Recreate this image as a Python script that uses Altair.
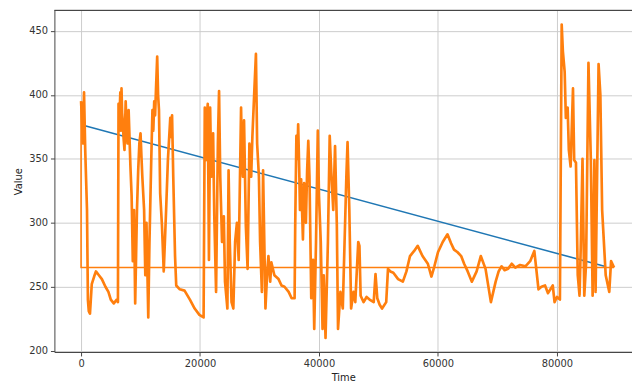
import altair as alt
import pandas as pd

# Orange series (drawing order preserved)
series_time = [
    0, 150, 300, 500, 700, 1000, 1150, 1300, 1500, 1800, 2200, 2500, 3000, 3500, 4100, 4600, 5000, 5500, 6000, 6200,
    6300, 6450, 6600, 6700, 6800, 6900, 7000, 7150, 7300, 7500, 7650, 7800, 8000, 8150, 8300, 8500, 8700, 8900,
    9100, 9400, 9600, 9800, 10000, 10150,
    10300, 10600, 10800, 11000, 11300, 11500, 11800, 12000, 12150, 12300, 12450, 12600, 12800, 12950, 13100, 13300, 13600,
    13900, 14300, 14600, 15000, 15200, 15300, 15500, 15800, 16000, 16600, 17400, 18300, 19100, 19900, 20600,
    20800, 20900, 21000, 21150, 21300, 21500, 21700, 21900, 22000, 22200, 22400, 22700, 23000, 23200, 23400, 23700, 24000,
    24200, 24600, 24800, 25000, 25300, 25600, 25900, 26200, 26500, 26900, 27050, 27200, 27400, 27550, 27700, 28000,
    28300, 28600, 28800, 29100, 29400, 29600, 29900, 30100, 30400, 30600, 31000, 31300, 31500, 31800,
    32000, 32500, 33200, 33700, 34200, 34900, 35400, 35900,
    36000, 36200, 36350, 36500, 36700, 36800, 37000, 37300, 37500, 37800, 38000, 38200, 38400, 38700, 39000, 39200,
    39500, 39800, 40000, 40300, 40600, 40800, 41100, 41500, 41800, 42100, 42400, 42700, 43000, 43200,
    43600, 44000, 44300, 44600, 44800, 45100, 45400, 45800, 46100, 46600,
    46800, 47000, 47500, 48000, 48500, 49200, 49500, 49800, 50200, 50600, 51300, 51600, 52000, 52500, 53300, 54100, 54700, 55300,
    56000, 56600, 57400, 58300, 58900, 59400, 60000, 60800, 61600, 62200, 62700, 63300, 63900, 64400, 65000, 65700, 66500, 67200, 68000, 68900, 69700,
    70200, 70700, 71200, 71800, 72400, 73000, 73800, 74700, 75500, 76200, 76900, 77400, 78000, 78500, 79300, 79600, 80000, 80500,
    80800, 81000, 81300, 81500, 81800, 82000, 82300, 82700, 82900, 83200, 83500, 83800, 84000, 84300,
    84600, 84900, 85300, 85700, 86000, 86300, 86500, 87000, 87300, 87600, 88200, 88800, 89100, 89600,
]
series_value = [
    395, 380, 362, 402, 357, 310, 240, 231, 229, 252, 258, 262, 259, 256, 250, 246, 240, 237, 240, 238,
    393, 380, 402, 372, 405, 386, 380, 366, 357, 395, 376, 362, 388, 366, 344, 321, 270, 310,
    237, 310, 340, 362, 370, 352,
    336, 310, 259, 300, 226, 285, 349, 388, 372, 395, 384, 405, 430, 400, 388, 323, 298,
    262, 310, 349, 382, 367, 384, 336, 274, 251, 248, 247, 240, 233, 228, 226,
    390, 360, 349, 385, 393, 271, 390, 336, 352, 370, 305, 246, 362, 403, 336, 285, 305,
    254, 233, 341, 285, 238, 233, 285, 300, 271, 390, 350, 336, 380, 340, 298, 264,
    362, 336, 367, 400, 432, 362, 336, 285, 246, 341, 233, 262, 274, 254,
    269, 259, 256, 251, 250, 246, 241, 241,
    297, 368, 350, 377, 336, 310, 334, 287, 331, 300, 340, 364, 336, 241, 271, 217,
    285, 372, 321, 285, 217, 259, 210, 285, 368, 336, 310, 360, 298, 217,
    246, 233, 285, 336, 363, 310, 233, 246, 238, 285,
    282, 243, 238, 242, 240, 238, 260, 241, 236, 233, 238, 264, 262, 261, 256, 254, 262, 274,
    278, 282, 274, 268, 258, 266, 277, 285, 291, 284, 279, 277, 274, 268, 262, 254, 262, 274, 264, 238, 254,
    262, 266, 263, 264, 268, 265, 267, 266, 270, 278, 248, 250, 251, 245, 251, 238, 242, 240,
    455, 434, 418, 382, 390, 357, 344, 405, 349, 347, 259, 243, 280, 350,
    243, 268, 425, 349, 243, 349, 246, 424, 400, 310, 259, 246, 270, 265,
]

# Orange connector segments (return trace)
connector_time = [89600, 0, 0]
connector_value = [265, 265, 395]

# Blue series
trend_time = [500, 88000]
trend_value = [376, 266]

x_ticks = [0, 20000, 40000, 60000, 80000]
y_ticks = [200, 250, 300, 350, 400, 450]

W, H = 585, 346
font = "DejaVu Sans"

orange_df = pd.DataFrame({"Time": series_time, "Value": series_value,
                          "i": list(range(len(series_time)))})
conn_df = pd.DataFrame({"Time": connector_time, "Value": connector_value,
                        "i": list(range(len(connector_time)))})
blue_df = pd.DataFrame({"Time": trend_time, "Value": trend_value,
                        "i": list(range(len(trend_time)))})

x_scale = alt.Scale(domain=[-4480, 92620], nice=False, zero=False)
y_scale = alt.Scale(domain=[199, 466], nice=False, zero=False)

x_axis = alt.Axis(values=x_ticks, format="d", title="Time", grid=True)
y_axis = alt.Axis(values=y_ticks, format="d", title="Value", grid=True)

blue = alt.Chart(blue_df).mark_line(color="#1f77b4", strokeWidth=1.6, clip=True).encode(
    x=alt.X("Time:Q", scale=x_scale, axis=x_axis),
    y=alt.Y("Value:Q", scale=y_scale, axis=y_axis),
    order=alt.Order("i:Q"),
)

conn = alt.Chart(conn_df).mark_line(color="#ff7f0e", strokeWidth=1.6, clip=True).encode(
    x=alt.X("Time:Q", scale=x_scale),
    y=alt.Y("Value:Q", scale=y_scale),
    order=alt.Order("i:Q"),
)

orange = alt.Chart(orange_df).mark_line(color="#ff7f0e", strokeWidth=2.7, clip=True,
                                        strokeJoin="round").encode(
    x=alt.X("Time:Q", scale=x_scale),
    y=alt.Y("Value:Q", scale=y_scale),
    order=alt.Order("i:Q"),
)

top_border = alt.Chart(blue_df).mark_rule(color="#444", strokeWidth=1).encode(
    x=alt.value(0), x2=alt.value(W), y=alt.value(0)
)

chart = alt.layer(blue, conn, orange, top_border).properties(
    width=W, height=H,
    autosize=alt.AutoSizeParams(type="none"),
    padding={"left": 47, "top": 0, "right": 0, "bottom": 33},
).configure_view(stroke=None).configure_axis(
    labelFont=font, titleFont=font, labelFontSize=10, titleFontSize=10,
    labelColor="#333", titleColor="#222", titleFontWeight="normal",
    tickColor="#444", tickSize=4, domainColor="#444", domainWidth=1,
    gridColor="#cccccc", gridWidth=1, labelPadding=3,
).configure_axisX(titlePadding=4).configure_axisY(titlePadding=5)

chart.save("out.html", embed_options={"renderer": "svg", "actions": False})
